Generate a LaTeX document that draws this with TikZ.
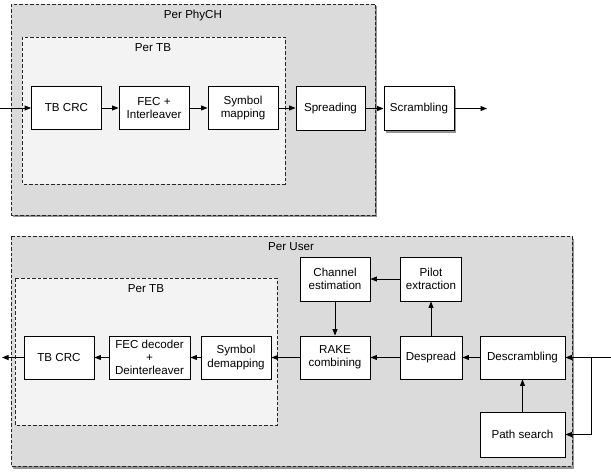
\documentclass[tikz,border=0pt]{standalone}
\usepackage{fontspec}
\setmainfont{Liberation Sans}
\usetikzlibrary{arrows.meta,shadows}
\definecolor{outergray}{RGB}{219,219,219}
\definecolor{innergray}{RGB}{243,243,243}
\begin{document}
\begin{tikzpicture}[x=1pt,y=-1pt,
  txt/.style={font=\fontsize{11.6}{13.3}\selectfont},
  blk/.style={txt, draw=black, line width=0.9pt, fill=white, minimum width=70pt, minimum height=43pt, inner sep=0pt, align=center},
  shad/.style={drop shadow={shadow xshift=1.5pt, shadow yshift=-2.5pt, opacity=0.6, fill=black!70}},
  frame/.style={draw=black!85, line width=0.9pt, dash pattern=on 3.5pt off 2pt},
  outerframe/.style={frame, fill=outergray, shad},
  innerframe/.style={frame, fill=innergray},
  lbl/.style={txt, inner sep=0pt},
  conn/.style={line width=0.9pt, -{Triangle[length=6.5pt,width=5pt]}},
]
\useasboundingbox (0,0) rectangle (611,476);

% ---------- transmitter ----------
\draw[outerframe] (11,4) rectangle (375,215);
\draw[innerframe] (22,37) rectangle (285,184);
\node[lbl] (tphych) at (193,16) {Per PhyCH};
\node[lbl] (ttb1) at (153,48) {Per TB};

\node[blk] (tbcrc1) at (66.5,108) {TB CRC};
\node[blk] (fec1) at (154,108) {FEC +\\Interleaver};
\node[blk] (sym1) at (243,108) {Symbol\\mapping};
\node[blk, minimum height=44pt, minimum width=69pt] (spread) at (330.5,108.5) {Spreading};
\node[blk, shad, minimum height=44pt] (scram) at (419,108.5) {Scrambling};

\coordinate (in1) at (0,108);
\coordinate (out1) at (487,108.5);

\draw[conn] (in1) -- (tbcrc1.west);
\draw[conn] (tbcrc1) -- (fec1);
\draw[conn] (fec1) -- (sym1);
\draw[conn] (sym1.east) -- (spread.west |- sym1.east);
\draw[conn] (spread) -- (scram);
\draw[conn] (scram.east) -- (out1);

% ---------- receiver ----------
\draw[outerframe] (11,236) rectangle (572,466);
\draw[innerframe] (15,278) rectangle (277,425);
\node[lbl] (tuser) at (291,247) {Per User};
\node[lbl] (ttb2) at (146,289) {Per TB};

\node[blk] (tbcrc2) at (59,357.5) {TB CRC};
\node[blk, minimum width=81pt] (fec2) at (149.5,357.5) {FEC decoder\\+\\Deinterleaver};
\node[blk] (symd) at (236,357.5) {Symbol\\demapping};
\node[blk] (rake) at (335,357.5) {RAKE\\combining};
\node[blk, minimum width=62pt] (desp) at (431,357.5) {Despread};
\node[blk, minimum width=85pt] (descr) at (522.5,357.5) {Descrambling};
\node[blk, minimum height=44pt] (chan) at (335,279) {Channel\\estimation};
\node[blk, minimum width=61pt, minimum height=44pt] (pilot) at (431,279) {Pilot\\extraction};
\node[blk, minimum width=85pt, minimum height=45pt] (path) at (522.5,434.5) {Path search};

\coordinate (in2) at (611,357.5);
\coordinate (br) at (591,357.5);
\coordinate (out2) at (2,357.5);

\draw[conn] (in2) -- (descr.east);
\draw[conn] (br) |- (path.east);
\draw[conn] (path) -- (descr);
\draw[conn] (descr) -- (desp);
\draw[conn] (desp) -- (pilot);
\draw[conn] (pilot) -- (chan);
\draw[conn] (chan) -- (rake);
\draw[conn] (desp) -- (rake);
\draw[conn] (rake) -- (symd);
\draw[conn] (symd) -- (fec2);
\draw[conn] (fec2) -- (tbcrc2);
\draw[conn] (tbcrc2.west) -- (out2);
\end{tikzpicture}
\end{document}
